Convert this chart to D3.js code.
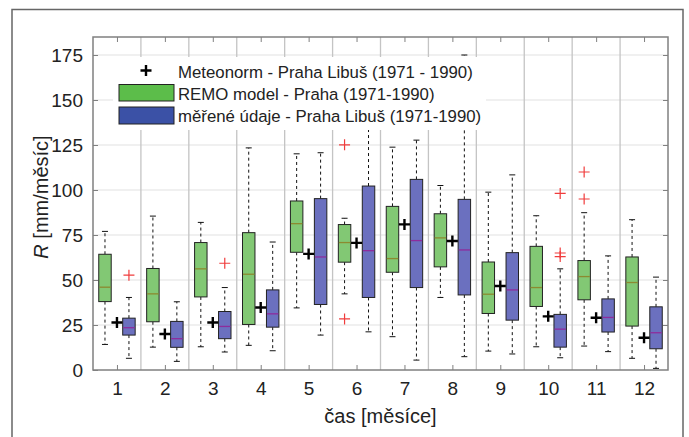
<!DOCTYPE html>
<html>
<head>
<meta charset="utf-8">
<script src="https://cdn.jsdelivr.net/npm/d3@7"></script>
<style>
  body { margin: 0; background: #fff; }
  svg { display: block; font-family: "Liberation Sans", Arial, sans-serif; }
</style>
</head>
<body>
<div id="chart"></div>
<script>
// Data - [whisker low, q1, median, q3, whisker high]
const months = [1, 2, 3, 4, 5, 6, 7, 8, 9, 10, 11, 12];
const remoStats = [
    [14.2, 38, 46, 64.3, 77],
    [12.7, 26.8, 42.3, 56.4, 85.5],
    [12.9, 40.6, 56.2, 70.8, 82],
    [13.7, 25.3, 53.2, 76.3, 123.4],
    [34.5, 65.4, 81.3, 93.9, 120.1],
    [42.3, 59.9, 70.8, 80.8, 84.3],
    [18.5, 54.3, 61.9, 90.9, 123.8],
    [40.3, 57.3, 73.4, 86.8, 102.5],
    [10.5, 31.4, 42.1, 60, 98.8],
    [12.9, 35.3, 45.8, 68.7, 85.7],
    [13.3, 39, 51.9, 60.8, 87.4],
    [6.5, 24.4, 48.6, 62.8, 83.5]
];
const measuredStats = [
    [6.5, 19.4, 23.5, 28.8, 40.3],
    [4.8, 12.6, 17.4, 27, 37.9],
    [10, 17.4, 24.2, 32.5, 45.8],
    [10.7, 23.8, 31.2, 44.5, 71.1],
    [19.4, 36.4, 62.8, 95.2, 120.7],
    [21.2, 40.3, 66.3, 102.2, 150],
    [5.5, 45.8, 71.9, 105.9, 127.7],
    [7.4, 41.7, 66.7, 94.8, 175],
    [8.9, 27.7, 44.5, 65.2, 108.4],
    [6.8, 12.7, 22.7, 30.9, 56.2],
    [10.2, 21.1, 29.2, 39.5, 63.4],
    [0.9, 11.8, 20.7, 35.1, 51.6]
];
const meteonorm = [26.4, 20, 26.4, 34.7, 64.5, 70.6, 80.9, 71.7, 46.7, 29.8, 29, 17.9];
const remoOutliers = [[6, 125.1], [6, 28.4], [11, 110], [11, 95]];
const measuredOutliers = [[1, 52.7], [3, 59.3], [10, 98.1], [10, 65], [10, 63]];
const yTicks = [0, 25, 50, 75, 100, 125, 150, 175];
const legendLabels = [
    "Meteonorm - Praha Libuš (1971 - 1990)",
    "REMO model - Praha (1971-1990)",
    "měřené údaje - Praha Libuš (1971-1990)"
];

const W = 689, H = 437;
const plot = { left: 93, right: 668, top: 37, bottom: 370 };

const svg = d3.select("#chart").append("svg")
    .attr("width", W)
    .attr("height", H);

svg.append("rect").attr("width", W).attr("height", H).attr("fill", "#fff");

// outer frame
svg.append("rect")
    .attr("x", 12).attr("y", 9.5)
    .attr("width", 671).attr("height", 450)
    .attr("fill", "none")
    .attr("stroke", "#666")
    .attr("stroke-width", 1.5);

const x = d3.scaleLinear().domain([0.5, 12.5]).range([plot.left, plot.right]);
const y = d3.scaleLinear().domain([0, 185]).range([plot.bottom, plot.top]);

// grid
svg.append("g").selectAll("line")
    .data(yTicks.slice(1))
    .join("line")
    .attr("x1", plot.left).attr("x2", plot.right)
    .attr("y1", d => y(d)).attr("y2", d => y(d))
    .attr("stroke", "#e2e2e2")
    .attr("stroke-width", 1.2);

svg.append("g").selectAll("line")
    .data(months.slice(1).map(m => m - 0.5))
    .join("line")
    .attr("x1", d => x(d)).attr("x2", d => x(d))
    .attr("y1", plot.top).attr("y2", plot.bottom)
    .attr("stroke", "#c4c4c4")
    .attr("stroke-width", 1.3);

// axes (box with inward ticks)
const axisColor = "#808080";
const tickLen = 5;

svg.append("g")
    .attr("transform", `translate(0,${plot.bottom})`)
    .call(d3.axisBottom(x).tickValues(months).tickSize(-tickLen).tickPadding(12).tickFormat(d3.format("d")))
    .call(g => g.select(".domain").remove())
    .call(g => g.selectAll("line").attr("stroke", axisColor))
    .call(g => g.selectAll("text").attr("font-size", 19).attr("fill", "#222").attr("font-family", null));

svg.append("g")
    .attr("transform", `translate(${plot.left},0)`)
    .call(d3.axisLeft(y).tickValues(yTicks).tickSize(-tickLen).tickPadding(10))
    .call(g => g.select(".domain").remove())
    .call(g => g.selectAll("line").attr("stroke", axisColor))
    .call(g => g.selectAll("text").attr("font-size", 19).attr("fill", "#222").attr("font-family", null));

svg.append("g")
    .attr("transform", `translate(0,${plot.top})`)
    .call(d3.axisTop(x).tickValues(months).tickSize(-tickLen).tickFormat(""))
    .call(g => g.select(".domain").remove())
    .call(g => g.selectAll("line").attr("stroke", axisColor));

svg.append("g")
    .attr("transform", `translate(${plot.right},0)`)
    .call(d3.axisRight(y).tickValues(yTicks.slice(1)).tickSize(-tickLen).tickFormat(""))
    .call(g => g.select(".domain").remove())
    .call(g => g.selectAll("line").attr("stroke", axisColor));

svg.append("rect")
    .attr("x", plot.left).attr("y", plot.top)
    .attr("width", plot.right - plot.left).attr("height", plot.bottom - plot.top)
    .attr("fill", "none")
    .attr("stroke", axisColor)
    .attr("stroke-width", 1.5);

// box plots
const boxW = 0.26;
function drawBoxes(stats, offset, fill, medColor) {
    const g = svg.append("g");
    stats.forEach((s, i) => {
        const cx = x(months[i] + offset);
        const hw = (x(boxW) - x(0)) / 2;
        const [lo, q1, med, q3, hi] = s;
        // whiskers
        g.append("line")
            .attr("x1", cx).attr("x2", cx)
            .attr("y1", y(q3)).attr("y2", y(hi))
            .attr("stroke", "#111").attr("stroke-dasharray", "3,3");
        g.append("line")
            .attr("x1", cx).attr("x2", cx)
            .attr("y1", y(q1)).attr("y2", y(lo))
            .attr("stroke", "#111").attr("stroke-dasharray", "3,3");
        [lo, hi].forEach(v => {
            g.append("line")
                .attr("x1", cx - 3).attr("x2", cx + 3)
                .attr("y1", y(v)).attr("y2", y(v))
                .attr("stroke", "#111");
        });
        g.append("rect")
            .attr("x", cx - hw).attr("y", y(q3))
            .attr("width", hw * 2).attr("height", y(q1) - y(q3))
            .attr("fill", fill)
            .attr("stroke", "#222")
            .attr("stroke-width", 1);
        g.append("line")
            .attr("x1", cx - hw + 0.5).attr("x2", cx + hw - 0.5)
            .attr("y1", y(med)).attr("y2", y(med))
            .attr("stroke", medColor)
            .attr("stroke-width", 1.3);
    });
}

drawBoxes(remoStats, -0.25, "#82c874", "#8c8a30");
drawBoxes(measuredStats, 0.25, "#6b70bf", "#8e2c9c");

// outliers
function plus(g, cx, cy, size, color, width) {
    g.append("path")
        .attr("d", `M${cx - size / 2},${cy}H${cx + size / 2}M${cx},${cy - size / 2}V${cy + size / 2}`)
        .attr("stroke", color)
        .attr("stroke-width", width)
        .attr("fill", "none");
}

const outG = svg.append("g");
remoOutliers.forEach(([m, v]) => plus(outG, x(m - 0.25), y(v), 11, "#f03c3c", 1.2));
measuredOutliers.forEach(([m, v]) => plus(outG, x(m + 0.25), y(v), 11, "#f03c3c", 1.2));

// Meteonorm means
const metG = svg.append("g");
meteonorm.forEach((v, i) => plus(metG, x(months[i]), y(v), 11, "#000", 2.4));

// legend
const legend = svg.append("g");
legend.append("rect")
    .attr("x", 113).attr("y", 57)
    .attr("width", 373).attr("height", 73)
    .attr("fill", "#fff");

plus(legend, 146, 70.5, 11, "#000", 2.4);
legend.append("rect")
    .attr("x", 119).attr("y", 84.5).attr("width", 55).attr("height", 16.5)
    .attr("fill", "#5cbd4a").attr("stroke", "#222");
legend.append("rect")
    .attr("x", 119).attr("y", 107).attr("width", 55).attr("height", 17)
    .attr("fill", "#3b51a6").attr("stroke", "#222");

legend.selectAll("text.leg")
    .data(legendLabels)
    .join("text")
    .attr("class", "leg")
    .attr("x", 178)
    .attr("y", (d, i) => 77.5 + i * 22.2)
    .attr("font-size", 16.8)
    .attr("fill", "#222")
    .text(d => d);

// axis titles
svg.append("text")
    .attr("x", (plot.left + plot.right) / 2)
    .attr("y", 423)
    .attr("text-anchor", "middle")
    .attr("font-size", 20)
    .attr("fill", "#222")
    .text("čas [měsíce]");

const yl = svg.append("text")
    .attr("transform", "translate(48,197) rotate(-90)")
    .attr("text-anchor", "middle")
    .attr("font-size", 20)
    .attr("fill", "#222");
yl.append("tspan").attr("font-style", "italic").text("R");
yl.append("tspan").text(" [mm/měsíc]");
</script>
</body>
</html>
